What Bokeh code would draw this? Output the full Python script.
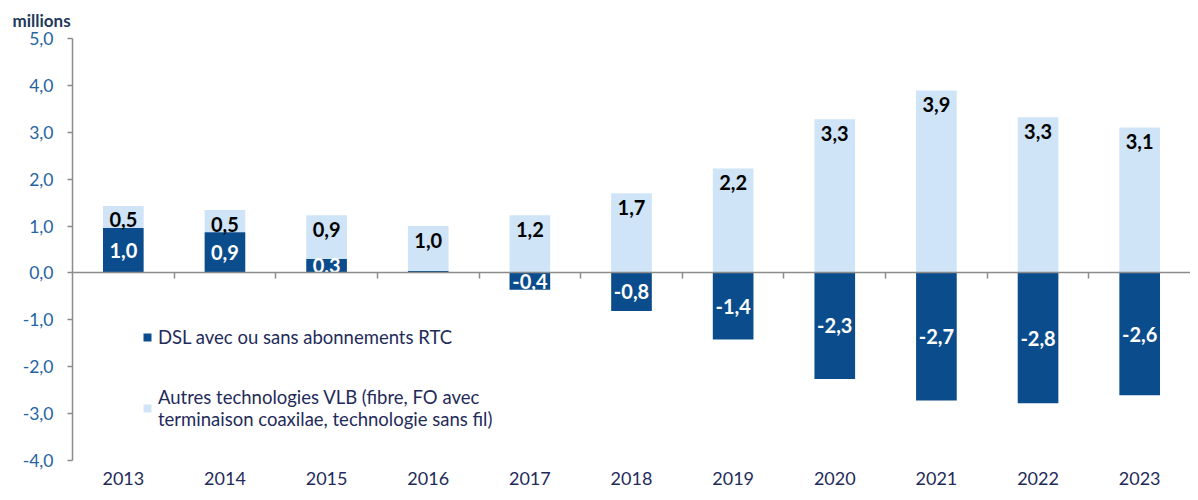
from bokeh.plotting import figure
from bokeh.models import ColumnDataSource, Range1d, LinearAxis, FixedTicker, Legend, LegendItem
from bokeh.core.properties import value
from bokeh.embed import file_html
from bokeh.resources import INLINE

years = ["2013", "2014", "2015", "2016", "2017", "2018", "2019", "2020", "2021", "2022", "2023"]
dsl = [0.96, 0.87, 0.30, 0.04, -0.36, -0.81, -1.42, -2.26, -2.72, -2.78, -2.61]
other = [0.47, 0.47, 0.93, 0.96, 1.23, 1.70, 2.23, 3.28, 3.89, 3.32, 3.10]
y_ticks = [-4, -3, -2, -1, 0, 1, 2, 3, 4, 5]
y_tick_labels = ["-4,0", "-3,0", "-2,0", "-1,0", "0,0", "1,0", "2,0", "3,0", "4,0", "5,0"]
series_names = ["DSL avec ou sans abonnements RTC",
                "Autres technologies VLB (fibre, FO avec\nterminaison coaxilae, technologie sans fil)"]

DARK = "#0b4d8c"
LIGHT = "#cfe4f6"
GRAY = "#8c8c8c"
TICKBLUE = "#2563a3"
NAVY = "#1f2b5a"
FONT = "Lato"


def fmt(v):
    return ("%.1f" % v).replace(".", ",")


n = len(years)
xs = [i + 0.5 for i in range(n)]
o_bottom = [max(d, 0) for d in dsl]
o_top = [b + o for b, o in zip(o_bottom, other)]
src = ColumnDataSource(dict(
    x=xs, year=years, dsl=dsl, o_bottom=o_bottom, o_top=o_top,
    o_lbl=[fmt(o) for o in other],
))
# DSL labels (values that round to 0,0 are not labelled)
shown = [i for i, d in enumerate(dsl) if abs(d) >= 0.05]
dsrc = ColumnDataSource(dict(
    x=[xs[i] for i in shown],
    y=[dsl[i] / 2 for i in shown],
    lbl=[fmt(dsl[i]) for i in shown],
))

p = figure(x_range=Range1d(0, n), y_range=Range1d(-4, 5), width=1190, height=492,
           output_backend="svg", toolbar_location=None,
           min_border_left=72, min_border_right=0, min_border_top=37, min_border_bottom=32,
           outline_line_color=None)
p.xgrid.visible = False
p.ygrid.visible = False
p.background_fill_color = "white"

r_o = p.vbar(x="x", bottom="o_bottom", top="o_top", width=0.4,
             fill_color=LIGHT, line_color=None, source=src)
r_d = p.vbar(x="x", bottom=0, top="dsl", width=0.4,
             fill_color=DARK, line_color=None, source=src)

p.text(x="x", y="o_top", text="o_lbl", y_offset=14, source=src,
       text_align="center", text_baseline="middle", text_color="black",
       text_font=value(FONT), text_font_style="bold", text_font_size="20px")
p.text(x="x", y="y", text="lbl", source=dsrc,
       text_align="center", text_baseline="middle", text_color="white",
       text_font=value(FONT), text_font_style="bold", text_font_size="20px")

# bottom category labels
xa = p.xaxis[0]
xa.ticker = FixedTicker(ticks=xs)
xa.major_label_overrides = {x: y for x, y in zip(xs, years)}
xa.axis_line_color = None
xa.major_tick_line_color = None
xa.minor_tick_line_color = None
xa.major_tick_in = 0
xa.major_tick_out = 0
xa.major_label_standoff = 11
xa.major_label_text_font = FONT
xa.major_label_text_font_size = "18px"
xa.major_label_text_color = NAVY

# y axis
ya = p.yaxis[0]
ya.ticker = FixedTicker(ticks=y_ticks)
ya.major_label_overrides = {t: l for t, l in zip(y_ticks, y_tick_labels)}
ya.axis_line_color = GRAY
ya.axis_line_width = 1.5
ya.major_tick_line_color = GRAY
ya.major_tick_line_width = 1.5
ya.major_tick_in = 0
ya.major_tick_out = 5
ya.minor_tick_line_color = None
ya.major_label_standoff = 14
ya.major_label_text_font = FONT
ya.major_label_text_font_size = "17.5px"
ya.major_label_text_color = TICKBLUE

# zero line with category boundary ticks (no labels)
za = LinearAxis(fixed_location=0,
                ticker=FixedTicker(ticks=list(range(1, n))),
                major_tick_in=0, major_tick_out=6,
                major_tick_line_color=GRAY, major_tick_line_width=1.5,
                minor_tick_line_color=None,
                axis_line_color=GRAY, axis_line_width=1.5,
                major_label_text_color=None, major_label_standoff=0)
p.add_layout(za, "below")

p.title.text = "millions"
p.title.align = "left"
p.title.offset = -60
p.title.standoff = 15
p.title.text_font = FONT
p.title.text_font_style = "bold"
p.title.text_font_size = "17px"
p.title.text_color = "#1f3a5c"

legend = Legend(items=[LegendItem(label=series_names[0], renderers=[r_d]),
                       LegendItem(label=series_names[1], renderers=[r_o])],
                location=(70, 30), orientation="vertical",
                padding=0, margin=0, spacing=38,
                border_line_color=None, background_fill_alpha=0,
                glyph_width=10, glyph_height=10, label_standoff=6,
                label_text_font=FONT, label_text_font_size="18.5px",
                label_text_color=NAVY)
p.add_layout(legend)

open("out.html", "w").write(file_html(p, INLINE))
